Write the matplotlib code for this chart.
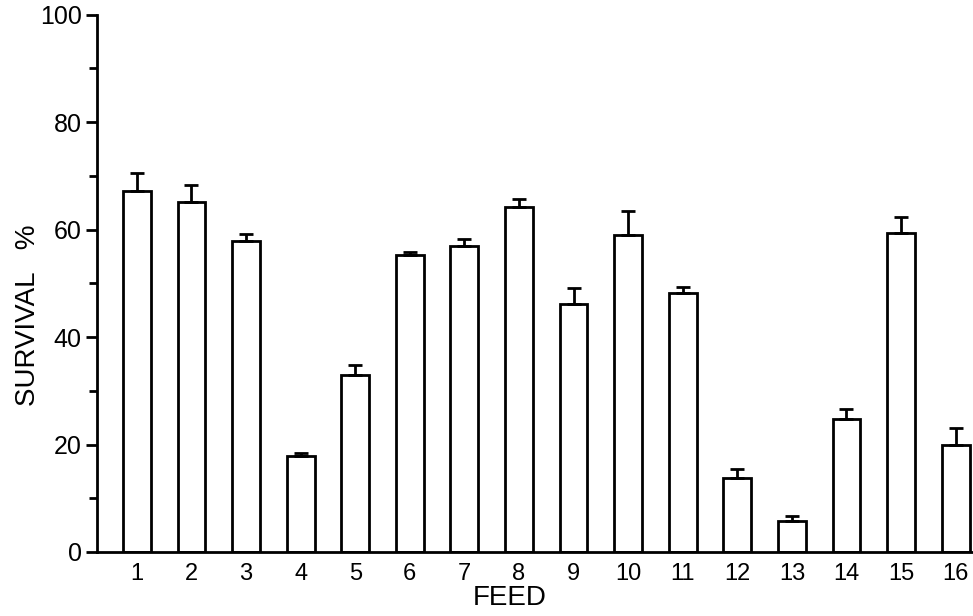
import numpy as np
import matplotlib
matplotlib.use("Agg")
import matplotlib.pyplot as plt
from matplotlib.ticker import MultipleLocator

# feeds and survival (%)
feeds = list(range(1, 17))
survival = [67.2, 65.1, 57.9, 17.8, 33.0, 55.2, 57.0, 64.3,
            46.1, 59.0, 48.2, 13.8, 5.8, 24.8, 59.4, 20.0]
# upper error (SE) above each bar
err_up = [3.4, 3.2, 1.2, 0.6, 1.8, 0.7, 1.3, 1.4,
          3.1, 4.4, 1.2, 1.6, 0.8, 1.9, 2.9, 3.1]

plt.rcParams['font.family'] = ['Liberation Sans', 'DejaVu Sans']

fig = plt.figure(figsize=(9.73, 6.16), dpi=100)
ax = fig.add_axes([0.0997, 0.104, 0.8993, 0.872])

x = np.array(feeds)
ax.bar(x, survival, width=0.51, color='white', edgecolor='black', linewidth=2, zorder=2)
ax.errorbar(x, survival, yerr=[np.zeros(len(x)), err_up], fmt='none',
            ecolor='black', elinewidth=2, capsize=5, capthick=2, zorder=3)

ax.set_xlim(0.27, 16.3)
ax.set_ylim(0, 100)
ax.spines['top'].set_visible(False)
ax.spines['right'].set_visible(False)
ax.spines['left'].set_linewidth(2)
ax.spines['bottom'].set_linewidth(2)

ax.set_xticks(feeds)
ax.set_xticklabels([str(f) for f in feeds])
ax.yaxis.set_major_locator(MultipleLocator(20))
ax.yaxis.set_minor_locator(MultipleLocator(10))
ax.tick_params(axis='y', which='major', length=8, width=2, labelsize=18, pad=3)
ax.tick_params(axis='y', which='minor', length=6, width=2)
ax.tick_params(axis='x', length=0, labelsize=17, pad=8)

ax.set_xlabel('FEED', fontsize=20)
ax.xaxis.set_label_coords(0.472, -0.062)
ax.set_ylabel('SURVIVAL   %', fontsize=20)
ax.yaxis.set_label_coords(-0.064, 0.44)

fig.savefig('out.png', dpi=100)
